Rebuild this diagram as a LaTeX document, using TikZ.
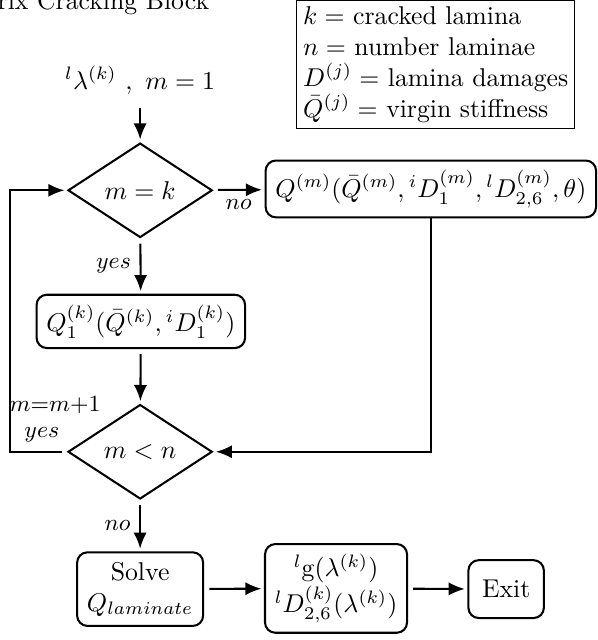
\documentclass[tikz,border=0pt]{standalone}
\usepackage{tikz}
\usetikzlibrary{positioning, arrows.meta, shapes.geometric}
\usepackage{amsmath,amssymb}

\tikzset{
  decision/.style={diamond, draw, thick, aspect=1.5, inner sep=0pt, minimum width=1.97cm, minimum height=1.29cm},
  block/.style={rectangle, draw, thick, rounded corners=4pt, inner sep=3.8pt, align=center},
  flow/.style={-{Latex[length=2.2mm,width=1.8mm]}, thick, shorten <=2pt, shorten >=1pt},
  tag/.style={font=\small},
}

\begin{document}
\begin{tikzpicture}[x=0.952cm, y=0.952cm]
\useasboundingbox (0,0) rectangle (8.57,-9.18);
\clip (0,0) rectangle (8.57,-9.18);
\node[anchor=base east] at (3.13,-0.13) (title) {Matrix Cracking Block};
\node[draw, align=left, inner sep=2.5pt] at (6.25,-0.925) (legend) {$k=$ cracked lamina\\ $n=$ number laminae\\ $D^{(j)}=$ lamina damages\\ $\bar{Q}^{(j)}=$ virgin stiffness};
\node at (2.01,-1.15) (input) {${}^{l}\lambda^{(k)}\ ,\ m=1$};
\node[decision] at (2.01,-2.73) (mk) {$m=k$};
\node[block] at (6.18,-2.71) (qm) {$Q^{(m)}(\bar{Q}^{(m)},{}^{i}D^{(m)}_{1},{}^{l}D^{(m)}_{2,6},\theta)$};
\node[block] at (2.02,-4.61) (q1) {$Q^{(k)}_{1}(\bar{Q}^{(k)},{}^{i}D^{(k)}_{1})$};
\node[decision] at (2.01,-6.48) (mn) {$m<n$};
\node[block] at (2.01,-8.45) (solve) {Solve\\ $Q_{laminate}$};
\node[block] at (4.82,-8.44) (ld) {${}^{l}\mathrm{g}(\lambda^{(k)})$\\ ${}^{l}D^{(k)}_{2,6}(\lambda^{(k)})$};
\node[block, minimum width=1.03cm, minimum height=0.79cm] at (7.26,-8.45) (exit) {Exit};
\coordinate (turn) at (0.14,-4.6);
\node[tag] at (0.79,-5.81) (inc) {$m{=}m{+}1$};
\node[tag] at (0.6,-6.23) (again) {$yes$};
\draw[flow] (input) -- (mk);
\draw[flow] (mk) -- node[below, tag] {$no$} (qm);
\draw[flow] (mk) -- node[left, tag] {$yes$} (q1);
\draw[flow] (q1) -- (mn);
\draw[flow, shorten <=0pt] (qm) |- (mn);
\draw[flow] (mn.west) -| (turn) |- (mk.west);
\draw[flow] (mn) -- node[left, tag] {$no$} (solve);
\draw[flow] (solve) -- (ld);
\draw[flow] (ld) -- (exit);
\end{tikzpicture}
\end{document}
